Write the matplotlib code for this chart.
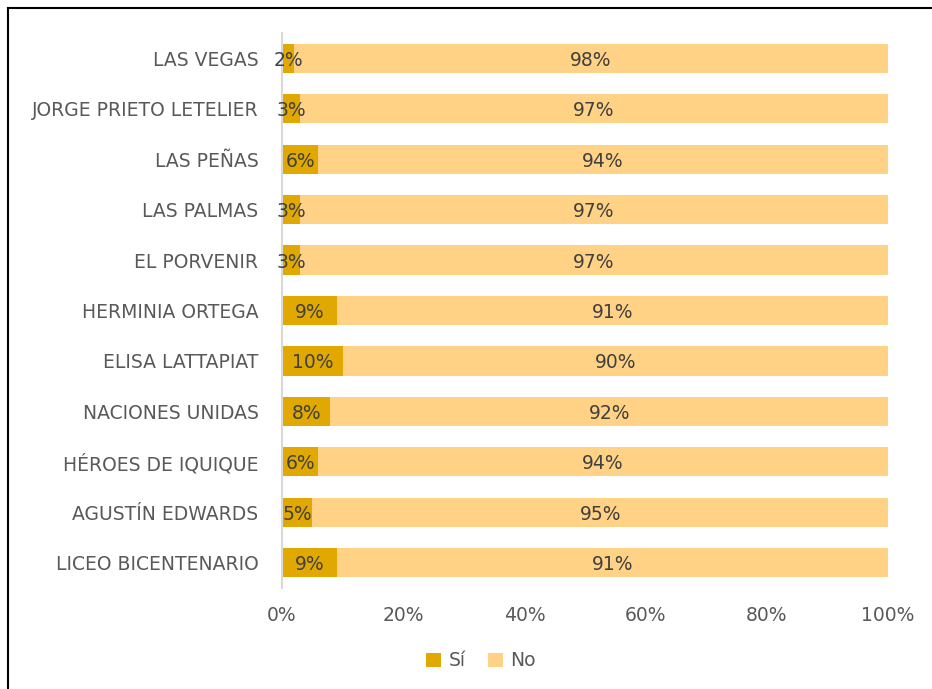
import matplotlib.pyplot as plt
from matplotlib.lines import Line2D

escuelas = [
    "LAS VEGAS",
    "JORGE PRIETO LETELIER",
    "LAS PEÑAS",
    "LAS PALMAS",
    "EL PORVENIR",
    "HERMINIA ORTEGA",
    "ELISA LATTAPIAT",
    "NACIONES UNIDAS",
    "HÉROES DE IQUIQUE",
    "AGUSTÍN EDWARDS",
    "LICEO BICENTENARIO",
]
si = [2, 3, 6, 3, 3, 9, 10, 8, 6, 5, 9]
no = [98, 97, 94, 97, 97, 91, 90, 92, 94, 95, 91]
x_ticks = [0, 20, 40, 60, 80, 100]

color_si = "#E0A800"
color_no = "#FFD285"
gris = "#595959"

plt.rcParams["font.family"] = ["DejaVu Sans"]

fig = plt.figure(figsize=(9.32, 6.89), dpi=100)
ax = fig.add_axes([282 / 932, 1 - 588 / 689, 606 / 932, 555 / 689])

y = list(range(len(escuelas)))
b1 = ax.barh(y, si, height=0.58, color=color_si, label="Sí")
b2 = ax.barh(y, no, left=si, height=0.58, color=color_no, label="No")

for i in y:
    ax.text(si[i] / 2, i + 0.04, f"{si[i]}%", ha="center", va="center",
            fontsize=13.5, color="#404040")
    ax.text(si[i] + no[i] / 2, i + 0.04, f"{no[i]}%", ha="center", va="center",
            fontsize=13.5, color="#404040")

ax.set_xlim(0, 100)
ax.set_ylim(len(escuelas) - 0.5, -0.5)
ax.set_yticks(y)
ax.set_yticklabels(escuelas, fontsize=13.5, color=gris)
ax.set_xticks(x_ticks)
ax.set_xticklabels([f"{t}%" for t in x_ticks], fontsize=13.5, color=gris)
ax.tick_params(axis="both", length=0)
ax.tick_params(axis="y", pad=17)
ax.tick_params(axis="x", pad=13)

for s in ["top", "right", "bottom"]:
    ax.spines[s].set_visible(False)
ax.spines["left"].set_color("#D9D9D9")
ax.spines["left"].set_linewidth(1.5)

fig.legend(handles=[b1, b2], loc="center", bbox_to_anchor=(481 / 932, 1 - 661 / 689),
           ncol=2, frameon=False, fontsize=13.5, handlelength=0.8, handleheight=0.8,
           handletextpad=0.4, columnspacing=1.2, labelcolor=gris)

# borde del recuadro
fig.add_artist(Line2D([8 / 932, 8 / 932], [0, 1 - 8 / 689], color="black",
                      linewidth=1.5, transform=fig.transFigure))
fig.add_artist(Line2D([8 / 932, 1], [1 - 8 / 689, 1 - 8 / 689], color="black",
                      linewidth=1.5, transform=fig.transFigure))

fig.savefig("out.png", dpi=100)
